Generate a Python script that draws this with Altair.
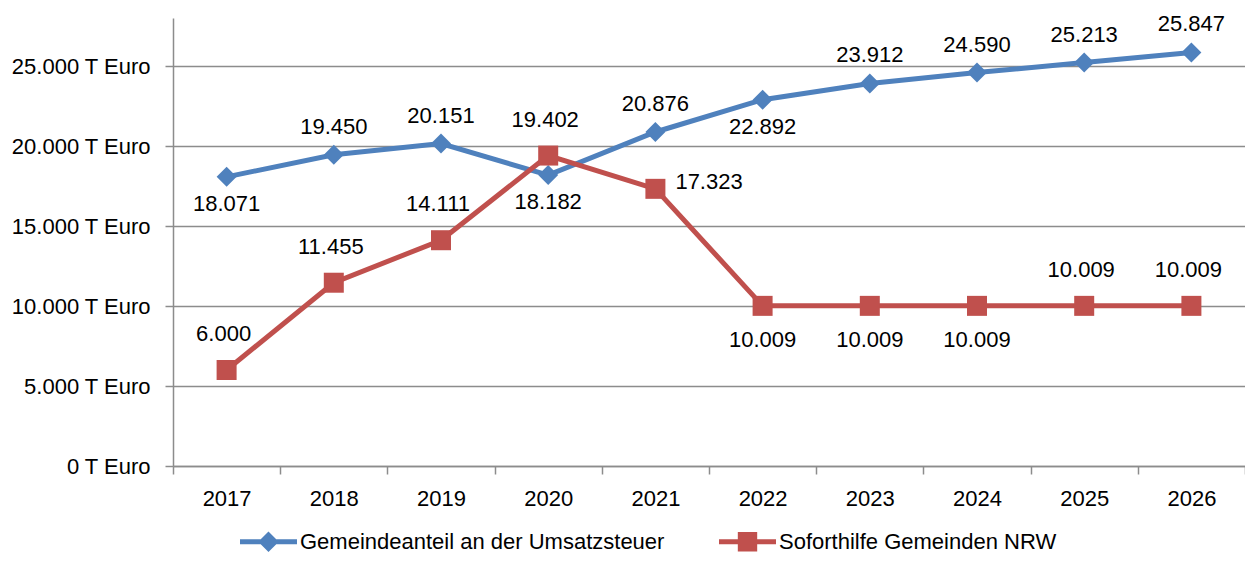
import altair as alt
import pandas as pd

YEARS = ["2017", "2018", "2019", "2020", "2021", "2022", "2023", "2024", "2025", "2026"]
SERIES_1 = "Gemeindeanteil an der Umsatzsteuer"
SERIES_2 = "Soforthilfe Gemeinden NRW"
VALUES_1 = [18071, 19450, 20151, 18182, 20876, 22892, 23912, 24590, 25213, 25847]
VALUES_2 = [6000, 11455, 14111, 19402, 17323, 10009, 10009, 10009, 10009, 10009]
# where each data label sits relative to its point
PLACE_1 = ["below", "above", "above", "below", "above", "below", "above", "above", "above", "above"]
PLACE_2 = ["above", "above", "above", "above", "right", "below", "below", "below", "above", "above"]
Y_TICKS = [0, 5000, 10000, 15000, 20000, 25000]


def fmt(v):
    return f"{v:,}".replace(",", ".")


rows = []
for yr, v, p in zip(YEARS, VALUES_1, PLACE_1):
    rows.append(dict(year=yr, series=SERIES_1, value=v, label=fmt(v), place=p))
for yr, v, p in zip(YEARS, VALUES_2, PLACE_2):
    rows.append(dict(year=yr, series=SERIES_2, value=v, label=fmt(v), place=p))
df = pd.DataFrame(rows)

FONT = "Liberation Sans"
FS = 22
GRAY = "#8c8c8c"
BLUE = "#4F81BD"
RED = "#C0504D"

color_scale = alt.Scale(domain=[SERIES_1, SERIES_2], range=[BLUE, RED])

PATH_1 = "M-1,-0.085 L1,-0.085 L1,0.085 L-1,0.085 Z M0,-0.36 L0.36,0 L0,0.36 L-0.36,0 Z"
PATH_2 = "M-1,-0.085 L1,-0.085 L1,0.085 L-1,0.085 Z M-0.34,-0.34 L0.34,-0.34 L0.34,0.34 L-0.34,0.34 Z"
legend_shape_scale = alt.Scale(domain=[SERIES_1, SERIES_2], range=[PATH_1, PATH_2])

x_enc = alt.X(
    "year:O",
    scale=alt.Scale(type="band", paddingInner=0, paddingOuter=0),
    axis=alt.Axis(
        title=None, tickBand="extent", labelAngle=0, tickSize=8, labelPadding=14,
        labelFont=FONT, labelFontSize=FS, labelColor="black",
        domainColor=GRAY, tickColor=GRAY, domainWidth=1.5, tickWidth=1.5,
    ),
)
y_enc = alt.Y(
    "value:Q",
    scale=alt.Scale(domain=[0, 28000], nice=False),
    axis=alt.Axis(
        title=None, values=Y_TICKS, grid=True, tickSize=8, labelPadding=15,
        labelExpr="replace(format(datum.value, ',d'), ',', '.') + ' T Euro'",
        labelFont=FONT, labelFontSize=FS, labelColor="black",
        domainColor=GRAY, tickColor=GRAY, gridColor=GRAY,
        domainWidth=1.5, tickWidth=1.5, gridWidth=1.5,
    ),
)

legend = alt.Legend(
    title=None, orient="none", direction="horizontal", legendX=67, legendY=495,
    symbolSize=3249, symbolStrokeWidth=0, symbolType="circle", labelFont=FONT,
    labelFontSize=FS, labelColor="black", labelOffset=3, columnPadding=54,
    symbolOpacity=1, labelLimit=0,
)
color_enc = alt.Color("series:N", scale=color_scale, legend=legend)

base = alt.Chart(df)

legend_layer = base.mark_point(filled=True, size=1, opacity=1).encode(
    x=x_enc, y=y_enc,
    color=color_enc,
    shape=alt.Shape("series:N", scale=legend_shape_scale, legend=legend),
)

lines = base.mark_line(strokeWidth=5).encode(
    x=x_enc, y=y_enc, color=color_enc, detail="series:N",
)


def markers(series, shape):
    return base.transform_filter(f"datum.series === '{series}'").mark_point(
        filled=True, size=400, opacity=1, shape=shape
    ).encode(x=x_enc, y=y_enc, color=color_enc)


def labels(series, place, dx, dy, align="center"):
    return base.transform_filter(
        f"datum.series === '{series}' && datum.place === '{place}'"
    ).mark_text(
        dx=dx, dy=dy, align=align, baseline="middle", font=FONT, fontSize=FS, color="black"
    ).encode(x=x_enc, y=y_enc, text="label:N")


chart = alt.layer(
    legend_layer,
    lines,
    markers(SERIES_1, "diamond"),
    markers(SERIES_2, "square"),
    labels(SERIES_1, "above", 0, -28),
    labels(SERIES_1, "below", 0, 27),
    labels(SERIES_2, "above", -3, -36),
    labels(SERIES_2, "below", 0, 34),
    labels(SERIES_2, "right", 20, -7, "left"),
).properties(
    width=1072, height=448,
    padding={"left": 165, "top": 10, "right": 0, "bottom": 89},
    autosize=alt.AutoSizeParams(type="none"),
).configure_view(stroke=None)

chart.save("out.html", embed_options={"renderer": "svg", "actions": False})
